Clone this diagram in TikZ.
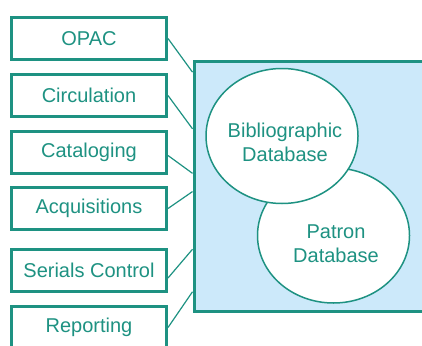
\documentclass[tikz,border=0pt]{standalone}
\usepackage{fontspec}
\setmainfont{Liberation Sans}
\usepackage{tikz}
\usetikzlibrary{%
  shapes.geometric,% wg. ellipse
  positioning,%
  calc%
}
\definecolor{tealline}{RGB}{30,146,130}
\definecolor{paleblue}{RGB}{204,233,250}

\begin{document}
\begin{tikzpicture}
[x=1pt, y=-1pt, draw=tealline, text=tealline,
module/.style={rectangle, draw, line width=3pt, fill=white, inner sep=0pt, minimum width=155pt, minimum height=42pt, font=\fontsize{20}{24}\selectfont},
system/.style={rectangle, draw, line width=3pt, fill=paleblue, inner sep=0pt, anchor=north west, minimum width=240pt, minimum height=250pt},
database/.style={ellipse, draw, line width=1.5pt, fill=white, inner sep=0pt, minimum width=152pt, minimum height=135pt},
dbname/.style={align=center, inner sep=0pt, font=\fontsize{20}{24}\selectfont},
link/.style={line width=1.2pt}
]

\useasboundingbox (0,0) rectangle (422,345);

\node[system] (sys) at (192.5,59.5) {};

\node[module] (opac) at (89,38.5) {OPAC};
\node[module] (circ) at (89,95.5) {Circulation};
\node[module] (catal) at (89,152.5) {Cataloging};
\node[module] (acq) at (89,208.5) {Acquisitions};
\node[module] (serial) at (89,270) {Serials Control};
\node[module] (report) at (89,327.5) {Reporting};

\coordinate (in1) at ($(sys.north west)!0.05!(sys.south west)$);
\coordinate (in2) at ($(sys.north west)!0.274!(sys.south west)$);
\coordinate (in3) at ($(sys.north west)!0.45!(sys.south west)$);
\coordinate (in4) at ($(sys.north west)!0.522!(sys.south west)$);
\coordinate (in5) at ($(sys.north west)!0.75!(sys.south west)$);
\coordinate (in6) at ($(sys.north west)!0.918!(sys.south west)$);

\draw[link] (opac.east) -- (in1);
\draw[link] (circ.east) -- (in2);
\draw[link] ([yshift=-3pt]catal.east) -- (in3);
\draw[link] (acq.east) -- (in4);
\draw[link] ([yshift=-8pt]serial.east) -- (in5);
\draw[link] (report.east) -- (in6);

\node[database] (patron) at (333.5,235.5) {};
\node[database] (bib) at (282,136) {};

\node[dbname] (bibname) at (285,142) {Bibliographic\\Database};
\node[dbname] (patronname) at (336,244) {Patron\\Database};
\end{tikzpicture}
\end{document}
